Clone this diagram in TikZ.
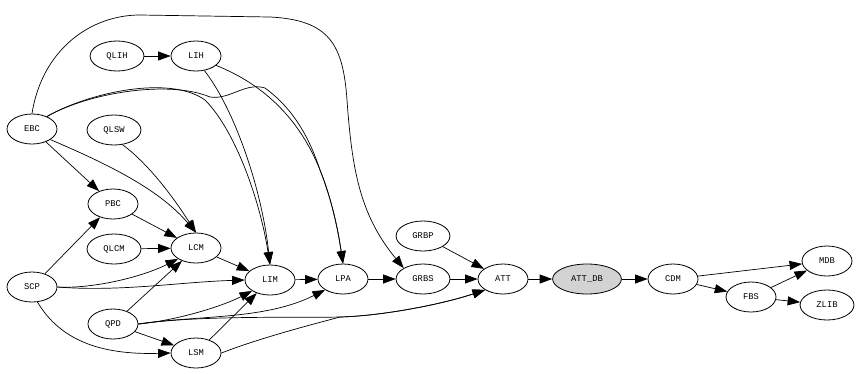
\documentclass[tikz,border=0pt]{standalone}
\usepackage{fontspec}
\setmonofont{Liberation Mono}
\usetikzlibrary{shapes.geometric, arrows.meta}
\definecolor{grisdb}{RGB}{211, 211, 211}

\begin{document}
\begin{tikzpicture}[x=1pt, y=-1pt,
    pkg/.style={draw, ellipse, line width=0.8pt, minimum width=50pt, minimum height=30pt,
                inner xsep=8.5pt, font=\ttfamily\fontsize{8.8}{9}\selectfont},
    dep/.style={-{Triangle[length=12.5pt,width=9pt]}, line width=0.7pt}]
  \useasboundingbox (0,0) rectangle (858,373);

  % paquetes
  \node[pkg] (qlih) at (117,56) {QLIH};
  \node[pkg] (lih) at (196,56) {LIH};
  \node[pkg] (ebc) at (32,129) {EBC};
  \node[pkg] (qlsw) at (114,130) {QLSW};
  \node[pkg] (pbc) at (113,204) {PBC};
  \node[pkg] (qlcm) at (114,249) {QLCM};
  \node[pkg] (lcm) at (196,248) {LCM};
  \node[pkg] (scp) at (32,287) {SCP};
  \node[pkg] (lim) at (270,280) {LIM};
  \node[pkg] (qpd) at (113,324) {QPD};
  \node[pkg] (lsm) at (196,353) {LSM};
  \node[pkg] (lpa) at (343,279) {LPA};
  \node[pkg] (grbp) at (423,236) {GRBP};
  \node[pkg] (grbs) at (423,279) {GRBS};
  \node[pkg] (att) at (503,279) {ATT};
  \node[pkg, fill=grisdb] (attdb) at (587,279) {ATT\_DB};
  \node[pkg] (cdm) at (673,279) {CDM};
  \node[pkg] (fbs) at (751,297) {FBS};
  \node[pkg] (mdb) at (827,261) {MDB};
  \node[pkg] (zlib) at (827,305) {ZLIB};

  % dependencias
  \draw[dep] (qlih) -- (lih);
  \draw[dep] (lih.-60) .. controls (235,110) and (262,190) .. (lim.north);
  \draw[dep] (lih.-25) .. controls (265,85) and (300,120) .. (320,170)
             .. controls (332,200) and (338,230) .. (lpa.north);
  \draw[dep] (ebc.north) .. controls (42,50) and (90,15) .. (140,15) -- (270,17)
             .. controls (330,20) and (343,45) .. (347,100)
             .. controls (352,170) and (360,215) .. (grbs.north west);
  \draw[dep] (ebc.40) .. controls (90,92) and (170,75) .. (205,100)
             .. controls (235,130) and (260,200) .. (lim.north);
  \draw[dep] (ebc.40) .. controls (90,92) and (170,80) .. (210,97)
             .. controls (230,100) and (245,82) .. (265,88)
             .. controls (295,110) and (310,140) .. (320,170)
             .. controls (332,200) and (338,230) .. (lpa.north);
  \draw[dep] (ebc) -- (pbc);
  \draw[dep] (ebc.-30) .. controls (110,165) and (160,190) .. (lcm.north);
  \draw[dep] (qlsw.-60) .. controls (150,165) and (175,200) .. (lcm.north);
  \draw[dep] (pbc) -- (lcm);
  \draw[dep] (qlcm) -- (lcm);
  \draw[dep] (scp) -- (pbc);
  \draw[dep] (scp.east) .. controls (90,289) and (140,278) .. (lcm.south west);
  \draw[dep] (scp.east) .. controls (120,292) and (180,282) .. (lim.west);
  \draw[dep] (scp.-70) .. controls (60,340) and (100,355) .. (lsm.west);
  \draw[dep] (qpd) -- (lcm);
  \draw[dep] (qpd.east) .. controls (180,320) and (225,305) .. (lim.south west);
  \draw[dep] (qpd) -- (lsm);
  \draw[dep] (qpd.east) .. controls (200,315) and (265,320) .. (lpa.south west);
  \draw[dep] (qpd.east) .. controls (200,315) and (300,318) .. (340,317)
             .. controls (380,316) and (440,305) .. (att.south west);
  \draw[dep] (lsm) -- (lim);
  \draw[dep] (lsm.east) .. controls (260,338) and (310,325) .. (340,317)
             .. controls (380,316) and (440,305) .. (att.south west);
  \draw[dep] (lcm) -- (lim);
  \draw[dep] (lim) -- (lpa);
  \draw[dep] (lpa) -- (grbs);
  \draw[dep] (grbs) -- (att);
  \draw[dep] (grbp) -- (att);
  \draw[dep] (att) -- (attdb);
  \draw[dep] (attdb) -- (cdm);
  \draw[dep] (cdm) -- (mdb);
  \draw[dep] (cdm) -- (fbs);
  \draw[dep] (fbs) -- (mdb);
  \draw[dep] (fbs) -- (zlib);
\end{tikzpicture}
\end{document}
